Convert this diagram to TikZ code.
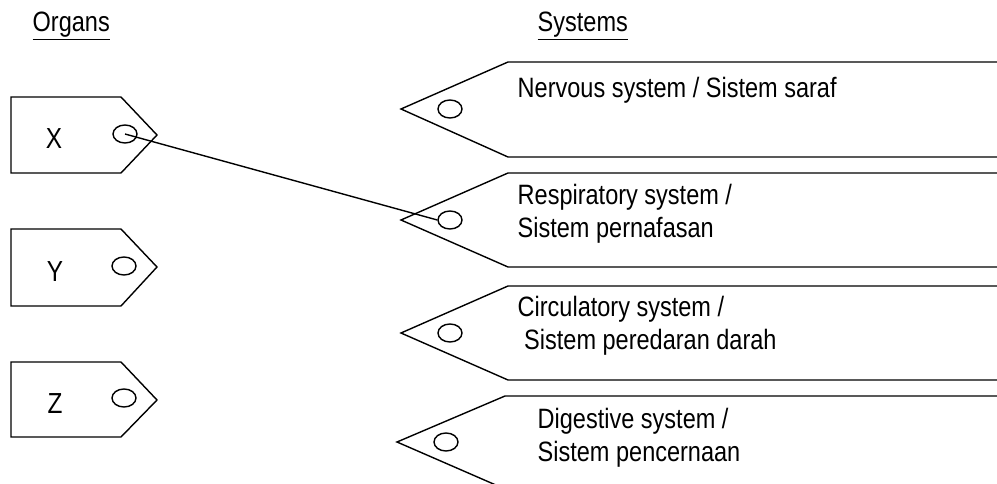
\documentclass[tikz,border=0pt]{standalone}
\usepackage{fontspec}
\setmainfont{Liberation Sans}
\newfontfamily\narrowfont[FakeStretch=0.84]{Liberation Sans}
\usetikzlibrary{shapes.geometric, positioning}

\begin{document}
\begin{tikzpicture}[x=1pt, y=-1pt, line width=1.4pt,
    hole/.style={ellipse, draw, minimum width=24pt, minimum height=18pt, inner sep=0pt},
    organ/.style={inner sep=0pt, font=\narrowfont\fontsize{29}{33}\selectfont},
    system/.style={anchor=west, align=left, inner sep=0pt, font=\narrowfont\fontsize{28}{33}\selectfont},
    heading/.style={anchor=base west, inner sep=0pt, font=\narrowfont\fontsize{28}{33}\selectfont}]
    \useasboundingbox (0,0) rectangle (997,484);

    % headings
    \node[heading] (organs) at (32,32) {\underline{Organs}};
    \node[heading] (systems) at (537,32) {\underline{Systems}};

    % organ tags
    \draw (11,97) -- (121,97) -- (157,135) -- (121,173) -- (11,173) -- cycle;
    \draw (11,229) -- (121,229) -- (157,267) -- (121,306) -- (11,306) -- cycle;
    \draw (11,362) -- (121,362) -- (157,400) -- (121,437) -- (11,437) -- cycle;
    \node[organ] (X) at (54,139) {X};
    \node[organ] (Y) at (55,272) {Y};
    \node[organ] (Z) at (55,404) {Z};
    \node[hole] (hX) at (125,134) {};
    \node[hole] (hY) at (124,266) {};
    \node[hole] (hZ) at (124,398) {};

    % system tags
    \draw (997,62) -- (508,62) -- (401,109) -- (508,157) -- (997,157);
    \draw (997,173) -- (508,173) -- (401,220) -- (508,267) -- (997,267);
    \draw (997,286) -- (508,286) -- (401,333) -- (508,380) -- (997,380);
    \draw (997,396) -- (505,396) -- (397,442) -- (505,489) -- (997,489);
    \node[hole] (hN) at (450,109) {};
    \node[hole] (hR) at (450,220) {};
    \node[hole] (hC) at (450,333) {};
    \node[hole] (hD) at (446,442) {};
    \node[system] (nervous) at (517,90) {Nervous system / Sistem saraf};
    \node[system] (respiratory) at (517,214) {Respiratory system /\\Sistem pernafasan};
    \node[system] (circulatory) at (517,326) {Circulatory system /\\\ Sistem peredaran darah};
    \node[system] (digestive) at (537,438) {Digestive system /\\Sistem pencernaan};

    % answer
    \draw (hX.center) -- (hR.west);
\end{tikzpicture}
\end{document}
